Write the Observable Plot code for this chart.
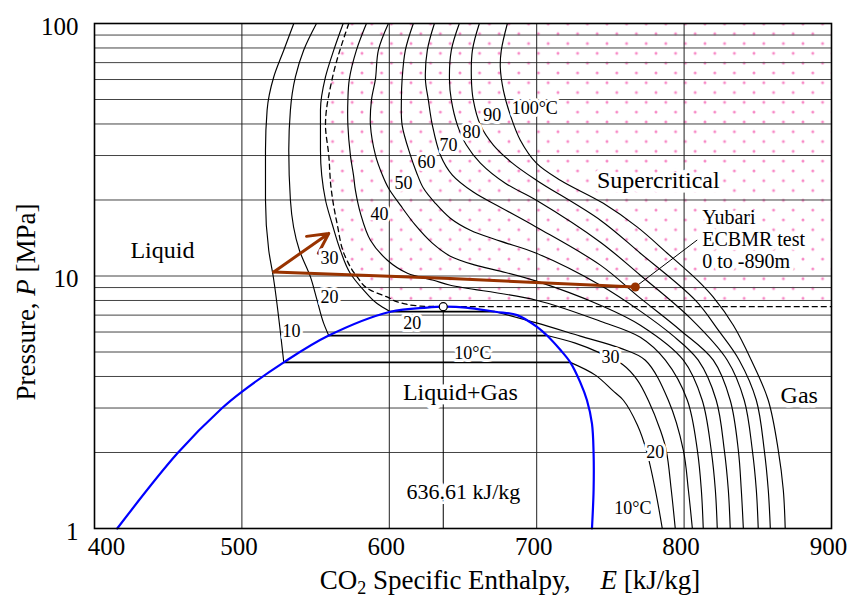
<!DOCTYPE html>
<html><head><meta charset="utf-8">
<script src="https://cdn.jsdelivr.net/npm/d3@7"></script>
<script src="https://cdn.jsdelivr.net/npm/@observablehq/plot@0.6"></script>
<style>body{margin:0;background:#fff} svg{display:block}</style>
</head><body><div id="chart"></div>
<script>
// ---------- axes / grid ----------
const xTicks = [400, 500, 600, 700, 800, 900];
const yTicks = [1, 10, 100];
const hGrid = [2, 3, 4, 5, 6, 7, 8, 9, 10, 20, 30, 40, 50, 60, 70, 80, 90];
const vGrid = [500, 600, 700, 800];

// ---------- saturation dome (blue) ----------
const domeE = [415.4, 456.1, 486.6, 499.7, 528.4, 558.9, 600.7, 625.6, 636.61, 652, 671.9, 686.7, 700.2, 707.0, 716, 722.8, 729.5, 734.1, 737.5, 738.6, 738.6, 737.5];
const domeP = [1.0, 1.98, 3.0, 3.47, 4.55, 5.81, 7.22, 7.5, 7.56, 7.5, 7.22, 7.0, 6.29, 5.81, 5.1, 4.55, 3.8, 3.22, 2.6, 1.98, 1.42, 1.0];

// critical point
const critPointE = [636.61];
const critPointP = [7.56];

// critical isotherm (dashed) + critical pressure line
const critE = [572.5, 561.2, 556.7, 558.9, 560.5, 564.6, 570.2, 578.2, 587.2, 598.5, 609.8, 621.1, 636.61];
const critP = [100, 60.2, 39.7, 30.2, 22.3, 16.1, 11.9, 9.92, 8.79, 8.26, 7.78, 7.6, 7.56];
const critLineE = [636.61, 900];

// ---------- subcritical isotherms ----------
const t10LiqE = [535.2, 528.4, 521.6, 517.1, 516.0, 516.0, 518.2, 521.2, 526.1, 528.4];
const t10LiqP = [100, 78.4, 61.4, 45.4, 31.5, 20.0, 12.65, 10, 6.0, 4.55];
const t10VapE = [722.8, 739.8, 751.3, 758.8, 768.3, 774.4, 780.5, 785.2];
const t10VapP = [4.55, 4.05, 3.53, 3.22, 2.57, 2.04, 1.42, 1.0];

const t20LiqE = [550.6, 541.9, 536.3, 532.9, 531.8, 532.9, 539.0, 546.5, 551.0, 555.5, 558.9];
const t20LiqP = [100, 78.4, 61.4, 45.4, 31.5, 20.0, 12.65, 9.92, 8.02, 6.49, 5.81];
const t20VapE = [707.0, 726.2, 743.2, 758.1, 768.3, 775.7, 783.9, 787.9, 791.3, 794.0];
const t20VapP = [5.81, 5.42, 4.95, 4.47, 3.87, 3.22, 2.45, 2.04, 1.42, 1.0];

const t30LiqE = [568.7, 562.3, 556.7, 553.3, 553.3, 556.7, 561.2, 566.8, 573.6, 582.6, 591.7, 600.7];
const t30LiqP = [100, 78.4, 61.4, 45.4, 31.5, 20.0, 16.1, 12.65, 10.23, 8.79, 7.78, 7.22];
const t30VapE = [671.9, 699.8, 729.6, 756.7, 773.7, 789.3, 799.5, 802.9, 805.6];
const t30VapP = [7.22, 6.52, 5.78, 5.18, 4.64, 3.22, 2.04, 1.42, 1.0];

// two-phase plateaus
const plateauP = [4.55, 5.81, 7.22];
const plateauE1 = [528.4, 558.9, 600.7];
const plateauE2 = [722.8, 707.0, 671.9];

// ---------- supercritical isotherms ----------
const t40E = [584.5, 577.7, 572.9, 571.9, 571.9, 573.6, 575.7, 577.0, 580.4, 587.2, 598.7, 612.3, 629.9, 641.4, 699.8, 743.2, 770.3, 787.3, 802.2, 809.0, 811.7, 813.0];
const t40P = [100, 78.4, 60.2, 49.7, 39.6, 30.1, 25.1, 21.87, 17.74, 13.86, 11.55, 10.26, 9.625, 9.196, 8.02, 6.62, 5.72, 4.64, 3.22, 2.04, 1.42, 1];
const t50E = [599.4, 592.6, 590.6, 587.9, 587.2, 590.6, 595.3, 599.4, 607.5, 617.7, 629.2, 641.4, 658.4, 675.3, 699.8, 743.2, 770.3, 799.5, 812.3, 818.4, 821.2, 822.5];
const t50P = [100, 78.4, 60.2, 49.7, 39.6, 30.1, 25.1, 22.3, 19.07, 15.89, 13.49, 11.98, 11.04, 10.45, 9.54, 7.66, 6.38, 4.64, 3.22, 2.04, 1.42, 1];
const t60E = [616.3, 610.9, 608.7, 608.2, 608.7, 614.3, 618.4, 623.1, 631.3, 641.4, 655.0, 675.3, 699.8, 743.2, 770.3, 792.0, 809.6, 821.8, 827.3, 830.0, 831.3];
const t60P = [100, 78.4, 60.2, 49.7, 39.6, 30.1, 25.77, 22.3, 19.4, 16.94, 15.18, 13.74, 12.31, 9.196, 7.26, 5.83, 4.64, 3.22, 2.04, 1.42, 1];
const t70E = [630.6, 625.8, 624.5, 626.5, 629.2, 634.7, 642.8, 657.0, 675.3, 699.8, 743.2, 770.3, 797.4, 819.8, 831.3, 836.8, 838.8, 840.2];
const t70P = [100, 78.4, 60.2, 49.7, 39.6, 30.1, 25.1, 21.5, 18.73, 15.61, 11.04, 8.17, 6.10, 4.64, 3.22, 2.04, 1.42, 1];
const t80E = [647.5, 642.1, 640.8, 642.1, 646.2, 652.3, 661.8, 678.7, 699.8, 743.2, 770.3, 804.2, 829.3, 840.8, 846.3, 849.0, 850.3];
const t80P = [100, 78.4, 60.2, 49.7, 39.6, 33.0, 28.0, 23.3, 19.96, 13.61, 10.07, 6.81, 4.64, 3.22, 2.04, 1.42, 1];
const t90E = [661.1, 656.4, 655.7, 657.0, 661.8, 670.6, 683.5, 699.8, 743.2, 770.3, 807.6, 823.2, 837.4, 849.0, 854.4, 857.1, 858.5];
const t90P = [100, 78.4, 60.2, 49.7, 39.6, 33.0, 28.0, 23.96, 16.63, 12.31, 8.02, 6.10, 4.64, 3.22, 2.04, 1.42, 1];
const t100E = [680.1, 676.0, 675.3, 677.4, 682.1, 688.9, 699.8, 716.0, 745.2, 768.3, 788.6, 809.0, 819.8, 833.4, 845.6, 857.1, 863.9, 867.3, 868.6];
const t100P = [100, 78.4, 67.1, 54.4, 43.4, 34.5, 28.0, 23.96, 19.4, 15.61, 12.31, 9.625, 8.24, 6.38, 4.64, 3.22, 2.04, 1.42, 1];

// ---------- Yubari path ----------
const pathE = [766.9, 641.4, 521.6];
const pathP = [9.05, 9.77, 10.38];
const arrowE = [521.6, 558.9];
const arrowP = [10.38, 14.74];
const calloutE = [766.9, 808.7];
const calloutP = [9.05, 13.86];

// ---------- labels ----------
const regionText = ["Liquid", "Supercritical", "Liquid+Gas", "Gas"];
const regionE = [446.1, 782.5, 648.2, 878.1];
const regionP = [12.65, 23.96, 3.47, 3.37];

const isoText = ["10", "20", "30", "40", "50", "60", "70", "80", "90", "100°C", "20", "10°C", "30", "20", "10°C"];
const isoE = [533.6, 559.4, 559.4, 593.3, 609.6, 625.2, 640.1, 655.7, 669.9, 698.7, 615.5, 656.7, 750.0, 780.5, 765.2];
const isoP = [6.05, 8.24, 11.77, 17.57, 23.3, 28.2, 33.0, 37.2, 43.4, 46.06, 6.49, 4.93, 4.78, 2.01, 1.20];

const noteText = ["Yubari\nECBMR test\n0 to -890m"];
const noteE = [812.3];
const noteP = [13.99];
const hcText = ["636.61 kJ/kg"];
const hcE = [650.3];
const hcP = [1.39];

// ---------- build ----------
const pts = (E, P) => E.map((e, i) => ({E: e, P: P[i]}));
const iso = {x: "E", y: "P", curve: "catmull-rom", stroke: "black", strokeWidth: 1.15};
const superList = [[t40E, t40P], [t50E, t50P], [t60E, t60P], [t70E, t70P], [t80E, t80P], [t90E, t90P], [t100E, t100P]];
const FONT = "Liberation Serif";
const halo = {stroke: "white", strokeWidth: 7, strokeLinejoin: "round", fill: "black"};

const chart = Plot.plot({
  width: 849, height: 597,
  marginLeft: 94, marginRight: 18, marginTop: 23, marginBottom: 69,
  x: {domain: [400, 900], axis: null},
  y: {type: "log", domain: [1, 100], axis: null},
  style: {fontFamily: FONT, background: "white", color: "black", overflow: "visible"},
  marks: [
    // supercritical dotted region
    Plot.areaX(pts(critE, critP), {y: "P", x1: "E", x2: critLineE[1], curve: "monotone-y", fill: "url(#scdots)"}),
    // grid
    Plot.ruleY(hGrid, {stroke: "#444", strokeWidth: 1}),
    Plot.ruleX(vGrid, {stroke: "#222", strokeWidth: 1}),
    Plot.ruleX(critPointE, {y1: 1, y2: critPointP[0], stroke: "black", strokeWidth: 1}),
    // critical isotherm dashed + critical pressure
    Plot.line(pts(critE, critP), {x: "E", y: "P", curve: "monotone-y", stroke: "black", strokeWidth: 1.3, strokeDasharray: "5,4"}),
    Plot.line(pts(critLineE, [critPointP[0], critPointP[0]]), {x: "E", y: "P", stroke: "black", strokeWidth: 1.3, strokeDasharray: "5,4"}),
    // subcritical isotherms
    Plot.line(pts(t10LiqE, t10LiqP), {...iso, curve: "monotone-y"}),
    Plot.line(pts(t10VapE, t10VapP), iso),
    Plot.line(pts(t20LiqE, t20LiqP), {...iso, curve: "monotone-y"}),
    Plot.line(pts(t20VapE, t20VapP), iso),
    Plot.line(pts(t30LiqE, t30LiqP), {...iso, curve: "monotone-y"}),
    Plot.line(pts(t30VapE, t30VapP), iso),
    Plot.ruleY(plateauP.map((p, i) => i), {y: i => plateauP[i], x1: i => plateauE1[i], x2: i => plateauE2[i], stroke: "black", strokeWidth: 1.8}),
    // supercritical isotherms
    ...superList.map(([E, P]) => Plot.line(pts(E, P), iso)),
    // saturation dome
    Plot.line(pts(domeE, domeP), {x: "E", y: "P", curve: "catmull-rom", stroke: "#0000ff", strokeWidth: 2.2}),
    // Yubari path
    Plot.line(pts(calloutE, calloutP), {x: "E", y: "P", stroke: "black", strokeWidth: 1}),
    Plot.line(pts(pathE, pathP), {x: "E", y: "P", stroke: "#993300", strokeWidth: 3, strokeLinecap: "round", strokeLinejoin: "round"}),
    Plot.arrow([0], {x1: arrowE[0], y1: arrowP[0], x2: arrowE[1], y2: arrowP[1], stroke: "#993300", strokeWidth: 3, headLength: 14, headAngle: 55}),
    Plot.dot(pts(pathE.slice(0, 1), pathP.slice(0, 1)), {x: "E", y: "P", r: 4.5, fill: "#993300"}),
    Plot.dot(pts(critPointE, critPointP), {x: "E", y: "P", r: 4, fill: "white", stroke: "black", strokeWidth: 1.2}),
    // labels
    Plot.text(pts(isoE, isoP).map((d, i) => ({...d, t: isoText[i]})), {x: "E", y: "P", text: "t", fontSize: 18, ...halo, strokeWidth: 6}),
    Plot.text(pts(regionE, regionP).map((d, i) => ({...d, t: regionText[i]})), {x: "E", y: "P", text: "t", fontSize: 24, ...halo, strokeWidth: 9}),
    Plot.text(pts(noteE, noteP).map((d, i) => ({...d, t: noteText[i]})), {x: "E", y: "P", text: "t", fontSize: 20, textAnchor: "start", lineHeight: 1.1, ...halo, strokeWidth: 8}),
    Plot.text(pts(hcE, hcP).map((d, i) => ({...d, t: hcText[i]})), {x: "E", y: "P", text: "t", fontSize: 22, ...halo, strokeWidth: 10}),
    Plot.frame({stroke: "black", strokeWidth: 1.6}),
    // tick labels
    Plot.text(xTicks.slice(1), {x: d => d, frameAnchor: "bottom", dy: 26, dx: -3, text: d => String(d), fontSize: 25}),
    Plot.text(xTicks.slice(0, 1), {x: d => d, frameAnchor: "bottom", dy: 26, dx: 12, text: d => String(d), fontSize: 25}),
    Plot.text(yTicks, {y: d => d, frameAnchor: "left", dx: -16, dy: 3, textAnchor: "end", text: d => String(d), fontSize: 25})
  ]
});

document.getElementById("chart").append(chart);
const svg = chart.tagName.toLowerCase() === "svg" ? chart : chart.querySelector("svg");
const NS = "http://www.w3.org/2000/svg";
const el = (tag, attrs, parent) => { const e = document.createElementNS(NS, tag); for (const k in attrs) e.setAttribute(k, attrs[k]); if (parent) parent.appendChild(e); return e; };

// dot pattern
const defs = el("defs", {});
svg.insertBefore(defs, svg.firstChild);
const pat = el("pattern", {id: "scdots", patternUnits: "userSpaceOnUse", width: 19.6, height: 19.6, x: 9.2, y: 14.1}, defs);
for (const [cx, cy] of [[0, 0], [19.6, 0], [0, 19.6], [19.6, 19.6], [9.8, 9.8]]) {
  el("circle", {cx, cy, r: 1.5, fill: "#f78ac6"}, pat);
}

// axis titles
const xt = el("text", {x: 510, y: 589, "text-anchor": "middle", "font-family": FONT, "font-size": 27, fill: "black"}, svg);
const addSpan = (parent, txt, attrs = {}) => { const s = el("tspan", attrs, parent); s.textContent = txt; return s; };
addSpan(xt, "CO");
addSpan(xt, "2", {"font-size": 18, dy: 5});
addSpan(xt, " Specific Enthalpy,", {dy: -5});
addSpan(xt, "E", {"font-style": "italic", dx: 30});
addSpan(xt, " [kJ/kg]");

const yt = el("text", {transform: "translate(35,302) rotate(-90)", "text-anchor": "middle", "font-family": FONT, "font-size": 27, fill: "black"}, svg);
addSpan(yt, "Pressure, ");
addSpan(yt, "P", {"font-style": "italic"});
addSpan(yt, " [MPa]");
</script></body></html>
